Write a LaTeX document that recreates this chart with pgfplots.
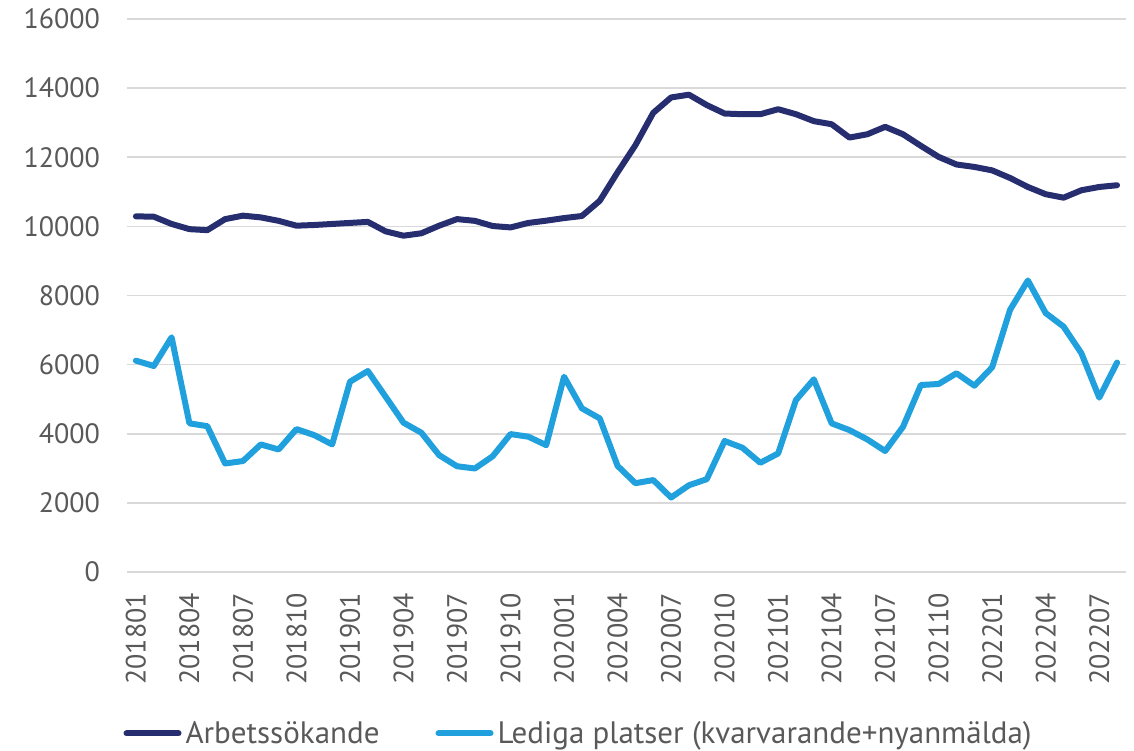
\documentclass[border=0pt]{standalone}
\usepackage{pgfplots}
\pgfplotsset{compat=1.18}
\usepackage{pgfplotstable}
\usepackage{fontspec}
\setmainfont{PT Sans}
\definecolor{darkser}{RGB}{38,46,112}
\definecolor{lightser}{RGB}{32,160,220}
\definecolor{txt}{RGB}{89,89,89}
\definecolor{gridc}{RGB}{217,217,217}

\pgfplotstableread{
x a b
0 10290 6115
1 10280 5960
2 10070 6790
3 9920 4300
4 9890 4220
5 10210 3140
6 10310 3210
7 10260 3690
8 10160 3545
9 10020 4135
10 10040 3960
11 10070 3690
12 10100 5505
13 10130 5815
14 9855 5070
15 9730 4320
16 9800 4030
17 10020 3380
18 10210 3060
19 10160 2995
20 10010 3350
21 9970 3990
22 10100 3915
23 10165 3670
24 10240 5650
25 10300 4735
26 10740 4445
27 11565 3070
28 12350 2570
29 13285 2660
30 13730 2155
31 13810 2510
32 13510 2685
33 13265 3790
34 13245 3595
35 13245 3160
36 13390 3430
37 13245 4975
38 13045 5575
39 12955 4300
40 12570 4105
41 12665 3835
42 12880 3500
43 12665 4200
44 12330 5410
45 12010 5440
46 11790 5750
47 11720 5390
48 11620 5925
49 11400 7585
50 11140 8435
51 10930 7490
52 10830 7100
53 11045 6330
54 11140 5045
55 11190 6060
}\datatable

\begin{document}
\begin{tikzpicture}
\useasboundingbox (-63.5pt,-89pt) rectangle (503.5pt,286pt);
\begin{axis}[
  scale only axis,
  width=499.5pt, height=276.5pt,
  xmin=-0.5, xmax=55.5,
  ymin=0, ymax=16000,
  xtick={0,3,...,54},
  xticklabels={201801,201804,201807,201810,201901,201904,201907,201910,202001,202004,202007,202010,202101,202104,202107,202110,202201,202204,202207},
  ytick={0,2000,...,16000},
  scaled y ticks=false,
  ymajorgrids,
  grid style={gridc, line width=0.75pt},
  axis line style={draw=none},
  tick style={draw=none},
  major tick length=0pt,
  ticklabel style={font=\fontsize{14}{16}\selectfont, text=txt},
  /pgf/number format/assume math mode=true,
  yticklabel style={/pgf/number format/1000 sep={}, xshift=-10pt},
  xticklabel style={rotate=90, anchor=east, yshift=0pt, xshift=-7pt},
  legend style={draw=none, fill=none, at={(0.453,-0.292)}, anchor=center,
    font=\fontsize{15.5}{17}\selectfont, text=txt, inner sep=0pt,
    nodes={inner sep=2pt},
    /tikz/every even column/.append style={column sep=26pt}},
  legend columns=2,
  legend cell align=left,
  legend image code/.code={\draw[#1, line width=3pt, line cap=round] (0pt,0pt) -- (26pt,0pt);},
]
\addplot[darkser, line width=3pt, line join=round, line cap=round] table[x=x, y=a] {\datatable};
\addlegendentry{Arbetssökande}
\addplot[lightser, line width=3pt, line join=round, line cap=round] table[x=x, y=b] {\datatable};
\addlegendentry{Lediga platser (kvarvarande+nyanmälda)}
\end{axis}
\end{tikzpicture}
\end{document}
